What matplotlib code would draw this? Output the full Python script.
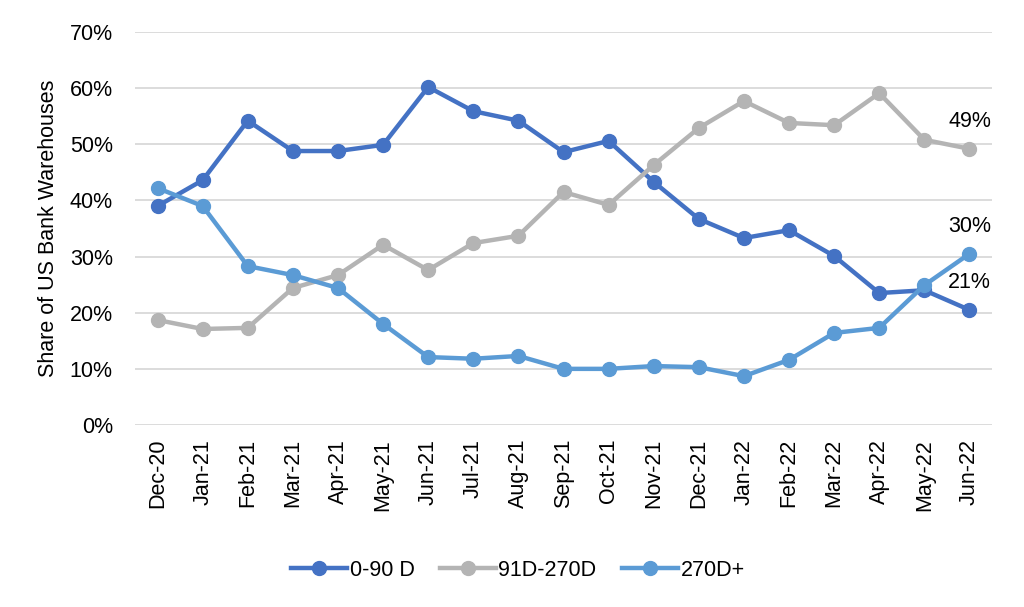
import numpy as np
import matplotlib.pyplot as plt
from matplotlib.ticker import PercentFormatter

plt.rcParams['font.family'] = ['Liberation Sans', 'DejaVu Sans']

months = ['Dec-20', 'Jan-21', 'Feb-21', 'Mar-21', 'Apr-21', 'May-21', 'Jun-21',
          'Jul-21', 'Aug-21', 'Sep-21', 'Oct-21', 'Nov-21', 'Dec-21', 'Jan-22',
          'Feb-22', 'Mar-22', 'Apr-22', 'May-22', 'Jun-22']
d0_90 = [39.0, 43.6, 54.2, 48.8, 48.8, 49.9, 60.2, 55.9, 54.2, 48.6, 50.6,
         43.3, 36.7, 33.3, 34.7, 30.1, 23.5, 24.0, 20.5]
d91_270 = [18.7, 17.1, 17.3, 24.4, 26.7, 32.1, 27.6, 32.4, 33.7, 41.5, 39.2,
           46.3, 52.9, 57.7, 53.8, 53.4, 59.1, 50.8, 49.2]
d270p = [42.2, 39.0, 28.3, 26.7, 24.4, 18.0, 12.1, 11.8, 12.3, 10.0, 10.0,
         10.5, 10.3, 8.7, 11.6, 16.4, 17.3, 24.9, 30.5]
end_labels = ['21%', '49%', '30%']

fs = 15.5

fig = plt.figure(figsize=(10.24, 6.07), dpi=100)
ax = fig.add_axes([135/1024, 1-425/607, 857/1024, 393/607])

x = np.arange(len(months))
series = [(d0_90, '0-90 D', '#4472C4'),
          (d91_270, '91D-270D', '#B4B4B4'),
          (d270p, '270D+', '#5B9BD5')]
for (vals, name, col), lab in zip(series, end_labels):
    ax.plot(x, vals, color=col, lw=3.2, marker='o', ms=10, label=name,
            solid_joinstyle='round')
    ax.annotate(lab, (x[-1], vals[-1]), xytext=(0, 12), textcoords='offset points',
                ha='center', va='bottom', fontsize=fs)

ax.set_xlim(-0.5, len(months) - 0.5)
ax.set_ylim(0, 70)
ax.set_yticks(range(0, 71, 10))
ax.yaxis.set_major_formatter(PercentFormatter(decimals=0))
ax.set_xticks(x)
ax.set_xticklabels(months, rotation=90, fontsize=fs)
ax.tick_params(axis='y', labelsize=fs, length=0, pad=16)
ax.tick_params(axis='x', length=0, pad=10)
ax.grid(axis='y', color='#D9D9D9', lw=1.3)
ax.set_axisbelow(True)
for s in ax.spines.values():
    s.set_visible(False)
ax.set_ylabel('Share of US Bank Warehouses', fontsize=fs, labelpad=8)

fig.legend(loc='center', bbox_to_anchor=(518/1024, 1-570/607), ncol=3,
           frameon=False, fontsize=fs, handlelength=2.6, columnspacing=1.2,
           handletextpad=0.1)

fig.savefig('out.png', dpi=100)
